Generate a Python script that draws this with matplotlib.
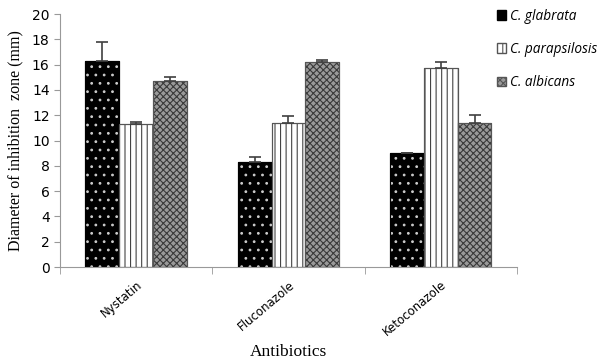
import matplotlib.pyplot as plt
from matplotlib.patches import Patch
import numpy as np

antibiotics = ['Nystatin', 'Fluconazole', 'Ketoconazole']
species = ['C. glabrata', 'C. parapsilosis', 'C. albicans']
means = [
    [16.3, 8.3, 9.0],    # C. glabrata
    [11.3, 11.4, 15.7],  # C. parapsilosis
    [14.7, 16.2, 11.4],  # C. albicans
]
errors = [
    [1.5, 0.4, 0.0],
    [0.2, 0.5, 0.5],
    [0.3, 0.2, 0.6],
]

faces = ['black', 'white', '#9a9a9a']
hatch_colors = ['#cccccc', '#444444', '#3a3a3a']
hatches = ['..', '|||', 'xxxxx']
edges = ['black', '#555555', '#555555']

plt.rcParams['hatch.linewidth'] = 0.8

fig = plt.figure(figsize=(5.98, 3.6), dpi=100)
ax = fig.add_axes([0.1003, 0.2583, 0.764, 0.7028])

x = np.arange(len(antibiotics))
w = 0.222
for i in range(3):
    pos = x + (i - 1) * w
    ax.bar(pos, means[i], w, color=faces[i], edgecolor=edges[i], lw=0.8, zorder=2)
    ax.bar(pos, means[i], w, color='none', edgecolor=hatch_colors[i],
           hatch=hatches[i], lw=0, zorder=3)
    ax.bar(pos, means[i], w, color='none', edgecolor=edges[i], lw=0.8, zorder=4)
    ax.errorbar(pos, means[i], yerr=[np.zeros(3), errors[i]], fmt='none',
                ecolor='#404040', elinewidth=1.2, capsize=4, capthick=1.2, zorder=5)

ax.set_xlim(-0.5, 2.5)
ax.set_ylim(0, 20)
ax.set_yticks(range(0, 21, 2))
ax.set_xticks(x)
ax.set_xticklabels(antibiotics, rotation=40, ha='right', rotation_mode='anchor',
                   fontsize=8.5)
ax.set_xticks([-0.5, 0.5, 1.5, 2.5], minor=True)
ax.tick_params(axis='x', which='major', length=0, pad=8)
ax.tick_params(axis='x', which='minor', length=5, color='#999999', direction='out')
ax.tick_params(axis='y', length=4, color='#999999', labelsize=10)
for s in ['top', 'right']:
    ax.spines[s].set_visible(False)
for s in ['left', 'bottom']:
    ax.spines[s].set_color('#999999')

ax.set_ylabel('Diameter of inhibition  zone (mm)', family='Liberation Serif',
              fontsize=11.5, labelpad=6)
ax.set_xlabel('Antibiotics', family='Liberation Serif', fontsize=12.5, labelpad=4)

handles = [Patch(facecolor=faces[i], edgecolor=edges[i], hatch=hatches[i])
           for i in range(3)]
leg = fig.legend(handles, species, loc='upper left', bbox_to_anchor=(0.81, 1.01),
                 frameon=False, handlelength=0.7, handleheight=0.7,
                 handletextpad=0.3, labelspacing=1.35,
                 prop={'family': 'Open Sans', 'style': 'italic', 'size': 9.8})

fig.savefig('out.png', dpi=100)
